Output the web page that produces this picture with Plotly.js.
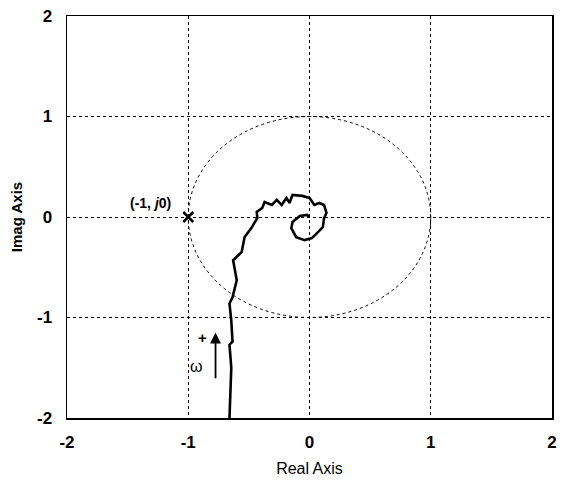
<!DOCTYPE html>
<html>
<head>
<meta charset="utf-8">
<script src="https://cdn.plot.ly/plotly-3.0.1.min.js"></script>
<style>html,body{margin:0;padding:0;background:#fff;}#chart{width:566px;height:482px;}</style>
</head>
<body>
<div id="chart"></div>
<script>
// Nyquist locus
var realPart = [-0.66,-0.65,-0.645,-0.66,-0.635,-0.645,-0.66,-0.635,-0.62,-0.60,-0.63,-0.56,-0.535,-0.48,-0.43,-0.435,-0.39,-0.37,-0.31,-0.27,-0.23,-0.19,-0.165,-0.14,-0.06,0.0,0.04,0.08,0.12,0.14,0.12,0.11,0.07,0.02,-0.04,-0.11,-0.15,-0.14,-0.08,-0.02,0.0];
var imagPart = [-2.0,-1.75,-1.5,-1.27,-1.24,-1.03,-0.86,-0.80,-0.72,-0.63,-0.43,-0.35,-0.20,-0.11,-0.01,0.05,0.09,0.15,0.12,0.17,0.12,0.19,0.14,0.22,0.21,0.19,0.12,0.14,0.12,0.04,-0.01,-0.10,-0.15,-0.21,-0.23,-0.20,-0.11,-0.05,0.01,0.02,0.0];
var criticalX = [-1];
var criticalY = [0];
var tickVals = [-2,-1,0,1,2];
var tickText = ['-2','-1','0','1','2'];

var traces = [
  {x: realPart, y: imagPart, mode: 'lines', line: {color: '#000', width: 2.6}, hoverinfo: 'skip'},
  {x: criticalX, y: criticalY, mode: 'markers', marker: {symbol: 'x-thin', size: 10, line: {color: '#000', width: 2.5}}, hoverinfo: 'skip'}
];

var axisCommon = {
  range: [-2, 2], tickvals: tickVals, ticktext: tickText,
  showgrid: true, gridcolor: '#000', griddash: 'dot', gridwidth: 1,
  zeroline: false, showline: true, linecolor: '#000', linewidth: 1.5, mirror: true,
  ticks: '', tickfont: {family: 'Liberation Sans, Arial, sans-serif', size: 17, color: '#000', weight: 'bold'}
};

var layout = {
  width: 566, height: 482,
  margin: {l: 67, r: 14, t: 16, b: 64},
  paper_bgcolor: '#fff', plot_bgcolor: '#fff',
  showlegend: false,
  xaxis: Object.assign({}, axisCommon, {
    ticklabelstandoff: 8,
    title: {text: 'Real Axis', font: {family: 'Liberation Sans, Arial, sans-serif', size: 16, color: '#000'}, standoff: 12}
  }),
  yaxis: Object.assign({}, axisCommon, {
    ticklabelstandoff: 10,
    title: {text: 'Imag Axis', font: {family: 'Liberation Sans, Arial, sans-serif', size: 15, color: '#000', weight: 'bold'}, standoff: 10}
  }),
  shapes: [
    {type: 'circle', xref: 'x', yref: 'y', x0: -1, x1: 1, y0: -1, y1: 1, line: {color: '#000', width: 1, dash: 'dot'}}
  ],
  annotations: [
    {x: -1.31, y: 0.14, xref: 'x', yref: 'y', text: '(-1, <i>j</i>0)', showarrow: false, font: {family: 'Liberation Sans, Arial, sans-serif', size: 14, color: '#000', weight: 'bold'}},
    {x: -0.775, y: -1.15, ax: -0.775, ay: -1.62, xref: 'x', yref: 'y', axref: 'x', ayref: 'y', text: '', showarrow: true, arrowhead: 2, arrowsize: 1.2, arrowwidth: 1.8, arrowcolor: '#000'},
    {x: -0.88, y: -1.2, xref: 'x', yref: 'y', text: '+', showarrow: false, font: {family: 'Liberation Sans, Arial, sans-serif', size: 15, color: '#000', weight: 'bold'}},
    {x: -0.93, y: -1.49, xref: 'x', yref: 'y', text: 'ω', showarrow: false, font: {family: 'Liberation Sans, Arial, sans-serif', size: 16, color: '#000'}}
  ]
};

Plotly.newPlot('chart', traces, layout, {displayModeBar: false, staticPlot: true});
</script>
</body>
</html>
